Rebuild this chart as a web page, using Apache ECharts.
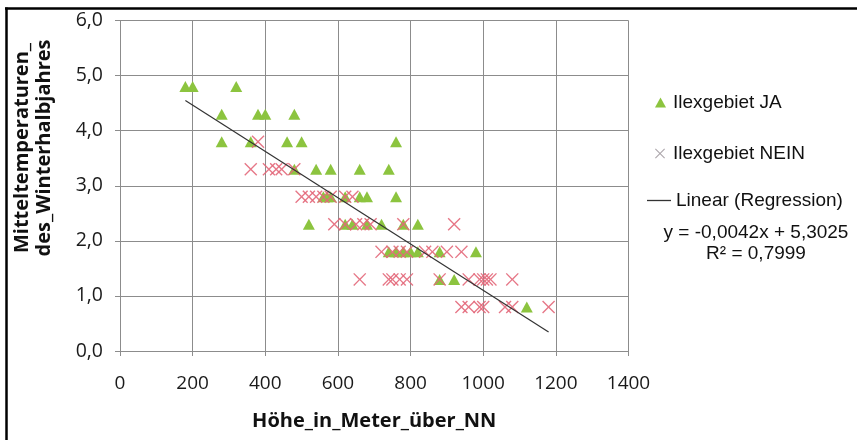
<!DOCTYPE html>
<html>
<head>
<meta charset="utf-8">
<script src="https://cdn.jsdelivr.net/npm/echarts@6/dist/echarts.min.js"></script>
<style>
  html, body { margin: 0; padding: 0; background: #fff; }
  #chart { width: 857px; height: 440px; }
</style>
</head>
<body>
<div id="chart"></div>
<script>
// Höhe (m ü. NN) und Mitteltemperatur des Winterhalbjahres, je Station
const ilexJA = [
  [180, 4.8], [200, 4.8], [320, 4.8],
  [280, 4.3], [380, 4.3], [400, 4.3], [480, 4.3],
  [280, 3.8], [360, 3.8], [460, 3.8], [500, 3.8], [760, 3.8],
  [480, 3.3], [540, 3.3], [580, 3.3], [660, 3.3], [740, 3.3],
  [560, 2.8], [570, 2.8], [580, 2.8], [620, 2.8], [660, 2.8], [680, 2.8], [760, 2.8],
  [520, 2.3], [620, 2.3], [640, 2.3], [680, 2.3], [720, 2.3], [780, 2.3], [820, 2.3],
  [740, 1.8], [760, 1.8], [780, 1.8], [800, 1.8], [820, 1.8], [880, 1.8], [980, 1.8],
  [880, 1.3], [920, 1.3],
  [1120, 0.8]
];
const ilexNEIN = [
  [380, 3.8],
  [360, 3.3], [410, 3.3], [430, 3.3], [445, 3.3], [480, 3.3],
  [500, 2.8], [520, 2.8], [540, 2.8], [560, 2.8], [580, 2.8], [620, 2.8], [640, 2.8],
  [590, 2.3], [620, 2.3], [650, 2.3], [670, 2.3], [690, 2.3], [780, 2.3], [920, 2.3],
  [720, 1.8], [750, 1.8], [770, 1.8], [790, 1.8], [840, 1.8], [860, 1.8], [900, 1.8], [940, 1.8],
  [660, 1.3], [740, 1.3], [750, 1.3], [770, 1.3], [790, 1.3], [880, 1.3], [960, 1.3],
  [990, 1.3], [1000, 1.3], [1010, 1.3], [1020, 1.3], [1080, 1.3],
  [940, 0.8], [960, 0.8], [990, 0.8], [1000, 0.8], [1060, 0.8], [1080, 0.8], [1180, 0.8]
];
// Lineare Regression über alle Stationen
const slope = -0.0042;
const intercept = 5.3025;
const rSquared = 0.7999;
const trendRange = [180, 1180];

const xTicks = [0, 200, 400, 600, 800, 1000, 1200, 1400];
const yTicks = [0, 1, 2, 3, 4, 5, 6];

const seriesNames = ['Ilexgebiet JA', 'Ilexgebiet NEIN', 'Linear (Regression)'];

const fmtDe = (v, d) => v.toFixed(d).replace('.', ',');
const trendData = trendRange.map(x => [x, intercept + slope * x]);
const equationText = 'y = ' + fmtDe(slope, 4) + 'x + ' + fmtDe(intercept, 4) + '\nR² = ' + fmtDe(rSquared, 4);

// X-förmiges Markersymbol (gefüllter Umriss zweier dünner Diagonalen)
const a = 0.75;
const crossPath = 'path://M0,' + a + 'L' + a + ',0L5,' + (5 - a) + 'L' + (10 - a) + ',0L10,' + a +
  'L' + (5 + a) + ',5L10,' + (10 - a) + 'L' + (10 - a) + ',10L5,' + (5 + a) + 'L' + a + ',10L0,' +
  (10 - a) + 'L' + (5 - a) + ',5Z';

const green = '#8cc43f';
const red = '#e3687a';
const gridGrey = '#8c8c8c';
const tickFont = '"Open Sans", sans-serif';
const legendFont = '"Liberation Sans", Arial, sans-serif';

const chart = echarts.init(document.getElementById('chart'), null, { renderer: 'canvas' });

const legendText = { fontFamily: legendFont, fontSize: 19, color: '#111' };

chart.setOption({
  backgroundColor: '#ffffff',
  animation: false,
  grid: { left: 120, top: 20.5, right: 228.5, bottom: 89 },
  xAxis: {
    type: 'value', min: xTicks[0], max: xTicks[xTicks.length - 1], interval: 200,
    name: 'Höhe_in_Meter_über_NN', nameLocation: 'middle', nameGap: 60,
    nameTextStyle: { fontFamily: tickFont, fontWeight: 'bold', fontSize: 20, color: '#111' },
    axisLine: { show: true, lineStyle: { color: gridGrey, width: 1 } },
    axisTick: { show: true, inside: false, length: 5, lineStyle: { color: gridGrey } },
    axisLabel: { margin: 23, fontFamily: tickFont, fontSize: 19, color: '#1a1a1a',
      formatter: v => String(v) },
    splitLine: { show: true, lineStyle: { color: gridGrey, width: 1 } }
  },
  yAxis: {
    type: 'value', min: yTicks[0], max: yTicks[yTicks.length - 1], interval: 1,
    axisLine: { show: true, lineStyle: { color: gridGrey, width: 1 } },
    axisTick: { show: true, inside: false, length: 5, lineStyle: { color: gridGrey } },
    axisLabel: { margin: 17, fontFamily: tickFont, fontSize: 19.5, color: '#1a1a1a',
      formatter: v => fmtDe(v, 1) },
    splitLine: { show: true, lineStyle: { color: gridGrey, width: 1 } }
  },
  legend: [
    { orient: 'vertical', left: 655, top: 93, padding: 0, itemWidth: 11, itemHeight: 10, icon: 'triangle',
      data: [{ name: seriesNames[0], itemStyle: { color: green } }],
      textStyle: Object.assign({ padding: [0, 0, 0, 2] }, legendText), selectedMode: false },
    { orient: 'vertical', left: 655, top: 144, padding: 0, itemWidth: 10, itemHeight: 10, icon: crossPath,
      data: [{ name: seriesNames[1], itemStyle: { color: '#a39ca2' } }],
      textStyle: Object.assign({ padding: [0, 0, 0, 3] }, legendText), selectedMode: false },
    { orient: 'vertical', left: 647, top: 191, padding: 0, itemWidth: 24, itemHeight: 1.3, icon: 'rect',
      data: [{ name: seriesNames[2], itemStyle: { color: '#333333' } }],
      textStyle: legendText, selectedMode: false }
  ],
  graphic: [
    { type: 'text', x: 33, y: 148, rotation: Math.PI / 2, silent: true,
      style: { text: 'Mitteltemperaturen_\ndes_Winterhalbjahres', fontFamily: tickFont,
        fontWeight: 'bold', fontSize: 20, lineHeight: 22, fill: '#111',
        align: 'center', verticalAlign: 'middle' } },
    { type: 'text', x: 756, y: 243, silent: true,
      style: { text: equationText, fontFamily: legendFont, fontSize: 19, lineHeight: 21,
        fill: '#111', align: 'center', verticalAlign: 'middle' } },
    { type: 'line', silent: true, shape: { x1: 5, y1: 8.5, x2: 857, y2: 8.5 },
      style: { stroke: '#000', lineWidth: 2.5 } },
    { type: 'line', silent: true, shape: { x1: 6.5, y1: 7.5, x2: 6.5, y2: 440 },
      style: { stroke: '#000', lineWidth: 2.5 } }
  ],
  series: [
    { name: seriesNames[0], type: 'scatter', data: ilexJA, symbol: 'triangle',
      symbolSize: [12, 11], itemStyle: { color: green, opacity: 1 }, z: 2 },
    { name: seriesNames[1], type: 'scatter', data: ilexNEIN, symbol: crossPath,
      symbolSize: 13, itemStyle: { color: red, opacity: 0.9 }, z: 3 },
    { name: seriesNames[2], type: 'line', data: trendData, showSymbol: false,
      lineStyle: { color: '#333333', width: 1.2 }, z: 4 }
  ]
});
</script>
</body>
</html>
